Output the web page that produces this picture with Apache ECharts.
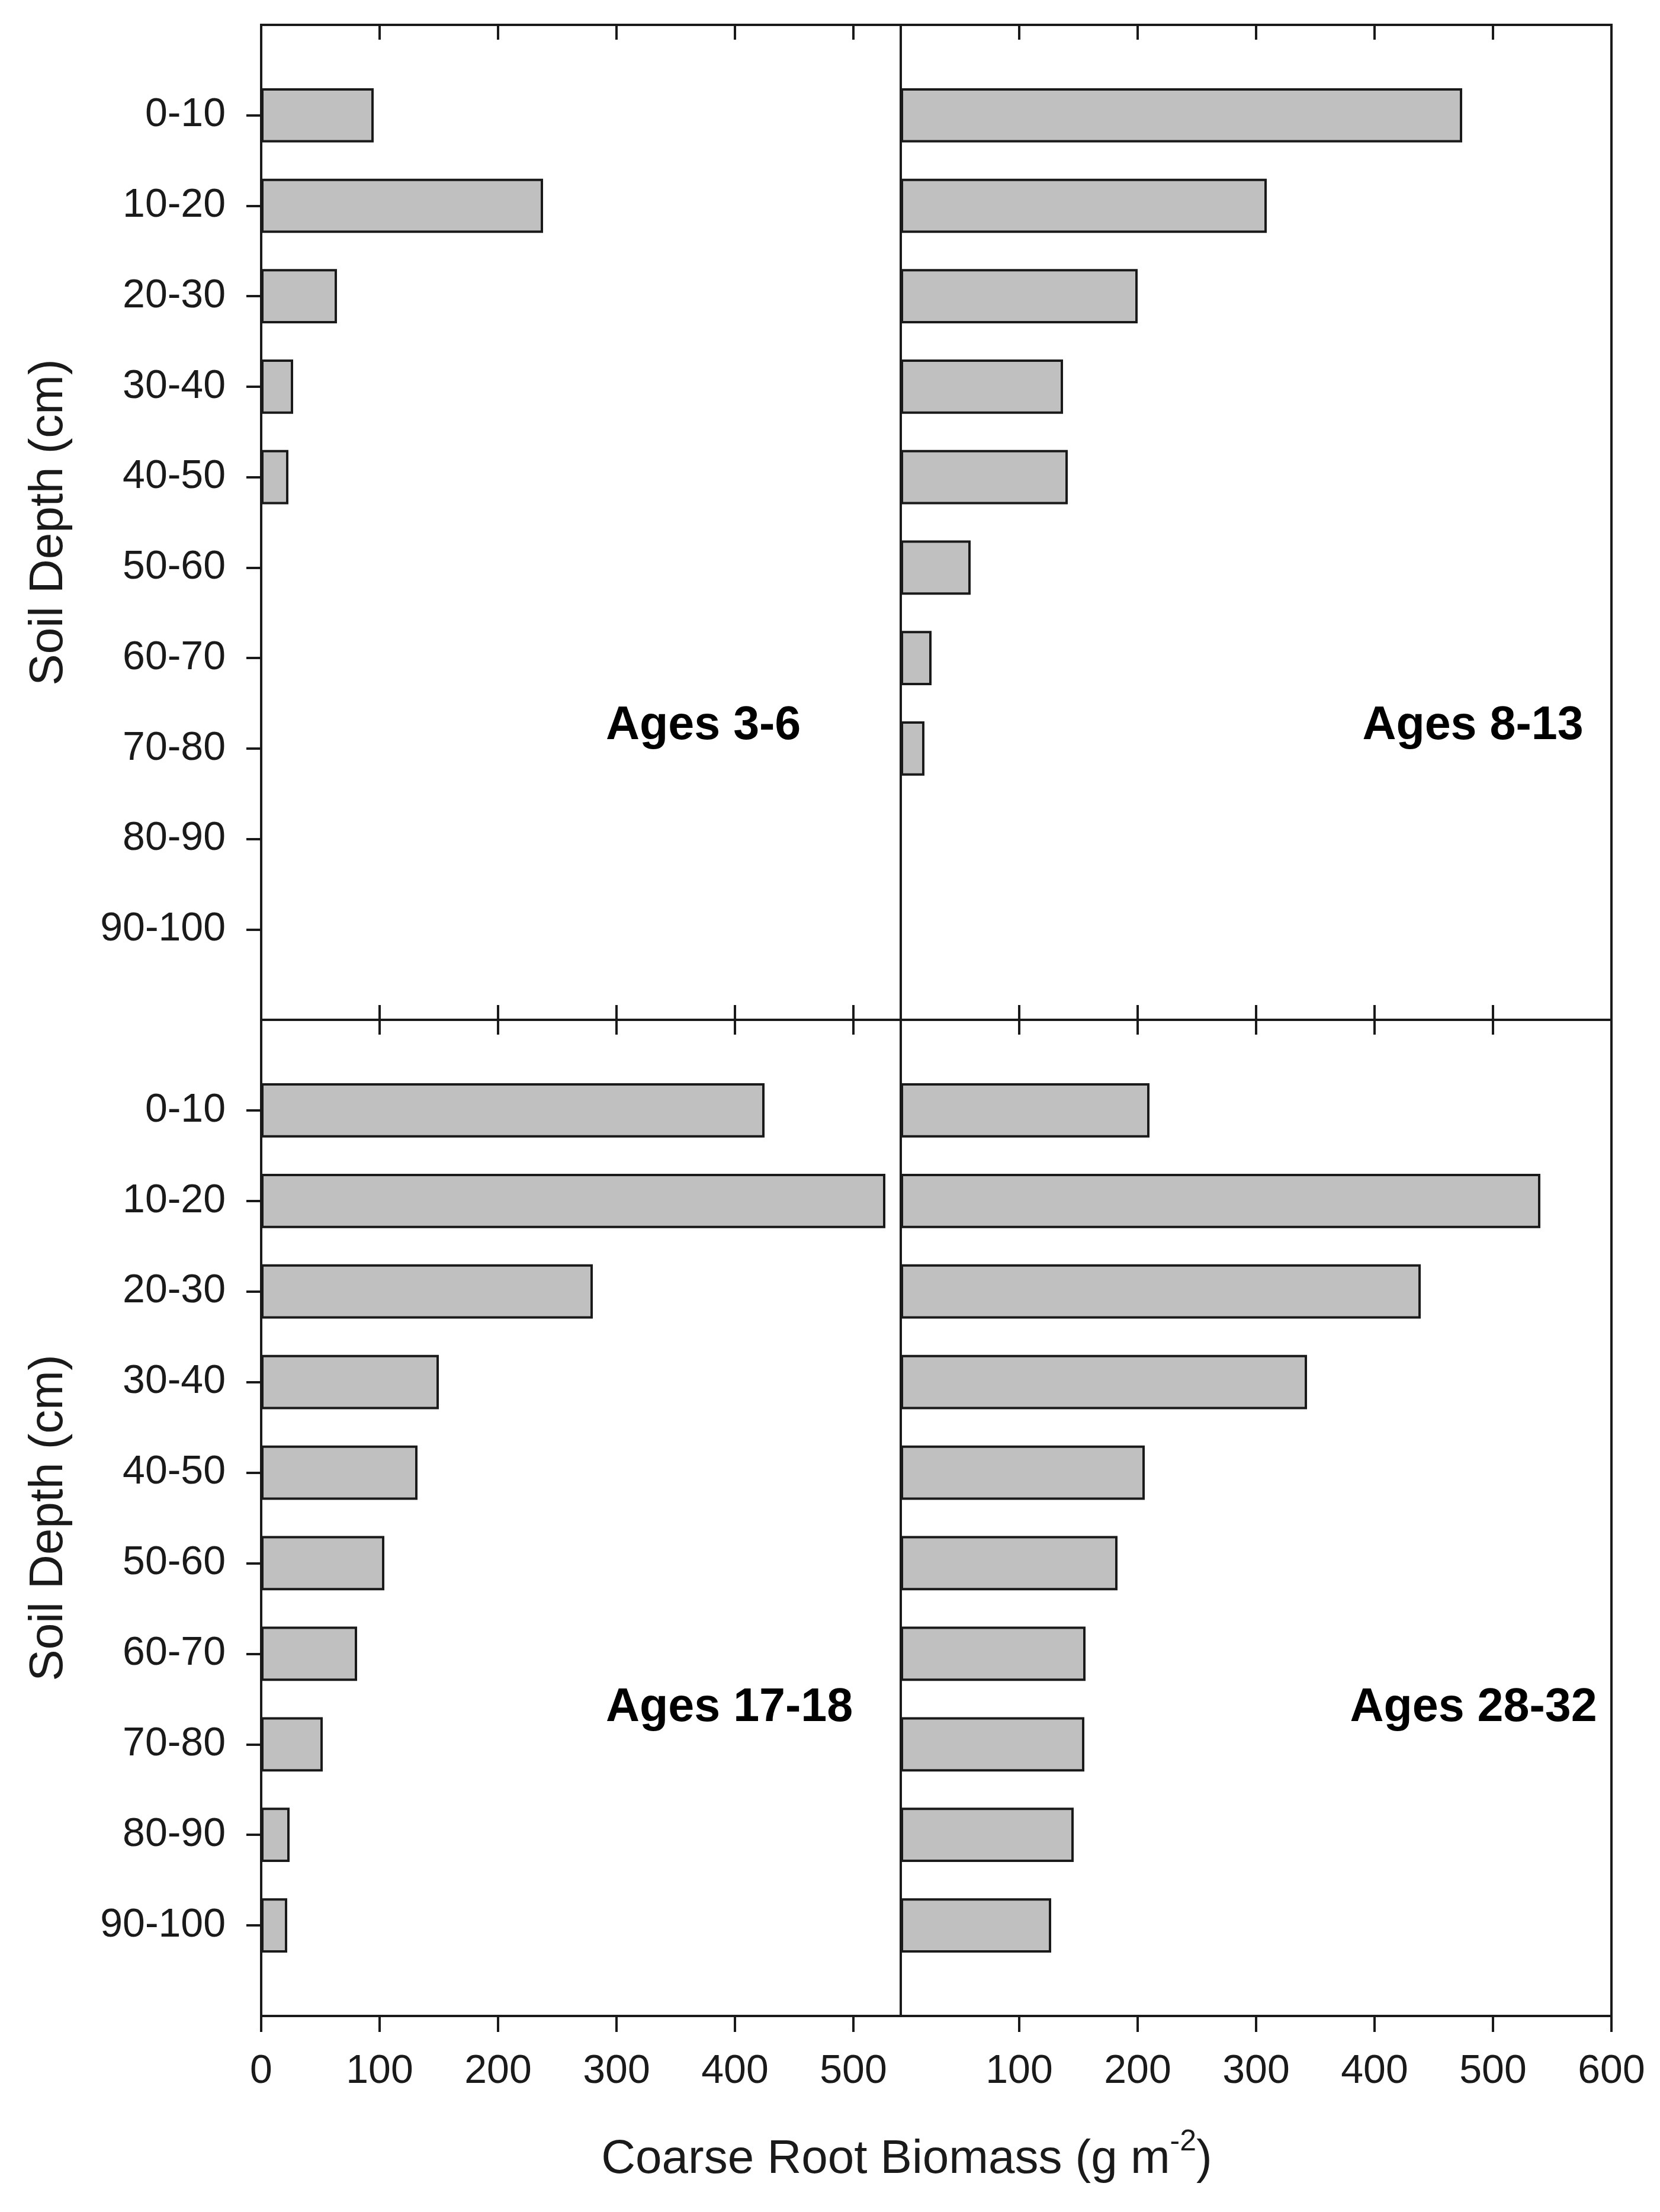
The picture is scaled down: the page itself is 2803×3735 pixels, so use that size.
<!DOCTYPE html>
<html>
<head>
<meta charset="utf-8">
<script src="https://cdn.jsdelivr.net/npm/echarts@6/dist/echarts.min.js"></script>
<style>
html,body{margin:0;padding:0;background:#ffffff;}
#chart{width:2803px;height:3735px;}
</style>
</head>
<body>
<div id="chart"></div>
<script>
// ---- data ----
const depthCategories = ['0-10','10-20','20-30','30-40','40-50','50-60','60-70','70-80','80-90','90-100'];
const ages3to6   = [95, 238, 64, 27, 23, 0, 0, 0, 0, 0];
const ages8to13  = [474, 309, 200, 137, 141, 59, 26, 20, 0, 0];
const ages17to18 = [425, 527, 280, 150, 132, 104, 81, 52, 24, 22];
const ages28to32 = [210, 540, 439, 343, 206, 183, 156, 155, 146, 127];
const panelLabels = ['Ages 3-6', 'Ages 8-13', 'Ages 17-18', 'Ages 28-32'];
const xTickLabelsLeft  = [0, 100, 200, 300, 400, 500];
const xTickLabelsRight = [100, 200, 300, 400, 500, 600];
const xInnerTicks      = [100, 200, 300, 400, 500];
const yAxisTitle = 'Soil Depth (cm)';
const xAxisTitle = 'Coarse Root Biomass (g m';
const xAxisTitleSup = '-2';

// ---- styling ----
const FONT = 'Liberation Sans, Arial, Helvetica, sans-serif';
const INK = '#1a1a1a';
const LINE_W = 4;

// padded category list: an empty slot above and below the ten depth classes
const yCats = [' '].concat(depthCategories, ['  ']);
const pad = arr => [null].concat(arr.map(v => (v > 0 ? v : null)), [null]);
const isReal = (idx) => idx >= 1 && idx <= depthCategories.length;

const grids = [
  {left: 441,  top: 42,   width: 1080, height: 1680}, // top-left
  {left: 1521, top: 42,   width: 1200, height: 1680}, // top-right
  {left: 441,  top: 1722, width: 1080, height: 1682}, // bottom-left
  {left: 1521, top: 1722, width: 1200, height: 1682}  // bottom-right
].map(g => Object.assign(g, {show: true, borderColor: INK, borderWidth: LINE_W, backgroundColor: 'transparent', containLabel: false}));

const panelMax = [540, 600, 540, 600];

function xAxes(gi) {
  const max = panelMax[gi];
  const isBottomRow = gi >= 2;
  const isLeft = gi % 2 === 0;
  const base = {
    type: 'value', gridIndex: gi, min: 0, max: max,
    axisLine: {show: false}, splitLine: {show: false}
  };
  const bottom = Object.assign({}, base, {
    position: 'bottom',
    axisTick: {
      show: true, inside: !isBottomRow, length: isBottomRow ? 27 : 25,
      customValues: isBottomRow ? (isLeft ? xTickLabelsLeft : xTickLabelsRight) : xInnerTicks,
      lineStyle: {color: INK, width: LINE_W}
    },
    axisLabel: isBottomRow ? {
      show: true, customValues: isLeft ? xTickLabelsLeft : xTickLabelsRight,
      fontFamily: FONT, fontSize: 68, color: INK, margin: 60
    } : {show: false}
  });
  const top = Object.assign({}, base, {
    position: 'top',
    axisTick: {
      show: true, inside: true, length: 25, customValues: xInnerTicks,
      lineStyle: {color: INK, width: LINE_W}
    },
    axisLabel: {show: false}
  });
  return [bottom, top];
}

const xAxis = [].concat(xAxes(0), xAxes(1), xAxes(2), xAxes(3));

const yAxis = [0, 1, 2, 3].map(gi => {
  const isLeft = gi % 2 === 0;
  return {
    type: 'category', gridIndex: gi, data: yCats, inverse: true, boundaryGap: false,
    axisLine: {show: false},
    splitLine: {show: false},
    axisTick: isLeft ? {
      show: true, inside: false, length: 25,
      interval: (idx) => isReal(idx),
      lineStyle: {color: INK, width: LINE_W}
    } : {show: false},
    axisLabel: isLeft ? {
      show: true, interval: (idx) => isReal(idx),
      fontFamily: FONT, fontSize: 68, color: INK, margin: 60,
      padding: [14, 0, 0, 0]
    } : {show: false},
    name: isLeft ? yAxisTitle : '',
    nameLocation: 'middle',
    nameRotate: 90,
    nameGap: 318,
    nameTextStyle: {fontFamily: FONT, fontSize: 80, color: INK}
  };
});

const seriesValues = [ages3to6, ages8to13, ages17to18, ages28to32];
const series = seriesValues.map((vals, gi) => ({
  type: 'bar', name: panelLabels[gi],
  xAxisIndex: gi * 2, yAxisIndex: gi,
  data: pad(vals),
  barWidth: '60%',
  itemStyle: {color: '#c0c0c0', borderColor: INK, borderWidth: LINE_W},
  emphasis: {disabled: true},
  animation: false
}));

const labelPos = [
  {x: 1023, y: 1226, align: 'left'},
  {x: 2487, y: 1226, align: 'center'},
  {x: 1023, y: 2884, align: 'left'},
  {x: 2488, y: 2884, align: 'center'}
];

const graphic = panelLabels.map((t, i) => ({
  type: 'text', x: labelPos[i].x, y: labelPos[i].y, silent: true,
  style: {
    text: t, fill: '#000',
    font: 'bold 79px ' + FONT,
    textAlign: labelPos[i].align, textVerticalAlign: 'middle'
  }
}));

graphic.push({
  type: 'text', x: 1531, y: 3647, silent: true,
  style: {
    text: '{a|' + xAxisTitle + '}{s|' + xAxisTitleSup + '}{a|)}',
    textAlign: 'center', textVerticalAlign: 'middle',
    rich: {
      a: {fontFamily: FONT, fontSize: 80, lineHeight: 110, fill: INK, color: INK},
      s: {fontFamily: FONT, fontSize: 50, verticalAlign: 'top', fill: INK, color: INK}
    }
  }
});

const chart = echarts.init(document.getElementById('chart'), null, {renderer: 'canvas', devicePixelRatio: 1});
chart.setOption({
  animation: false,
  backgroundColor: '#ffffff',
  grid: grids,
  xAxis: xAxis,
  yAxis: yAxis,
  series: series,
  graphic: graphic
});
</script>
</body>
</html>
